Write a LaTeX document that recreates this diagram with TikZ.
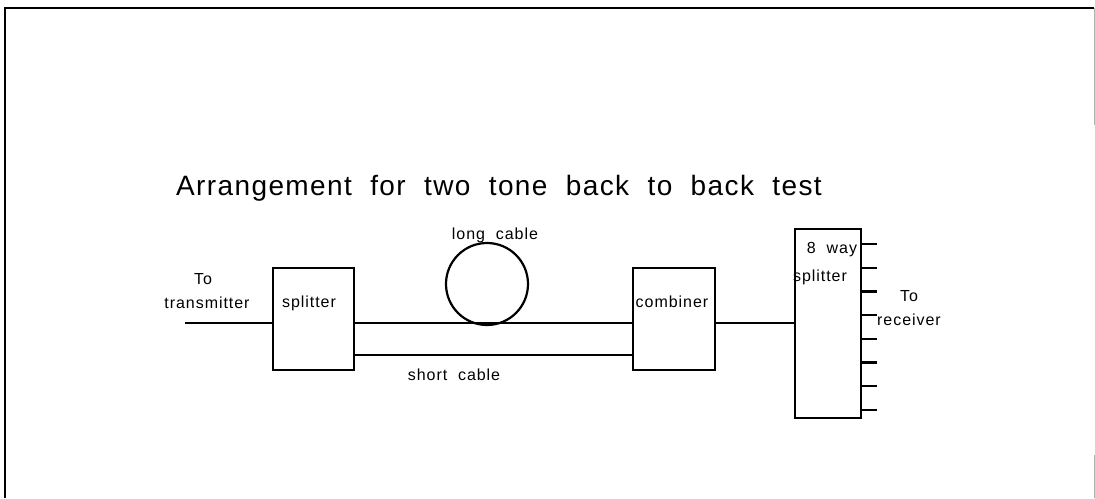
\documentclass[tikz,border=0pt]{standalone}
\usepackage{fontspec}
\setmainfont{Liberation Sans}
\begin{document}
\begin{tikzpicture}[x=1pt,y=-1pt,
  line width=2.2pt,
  blk/.style={draw,line width=2.2pt,inner sep=0pt},
  lbl/.style={inner sep=0pt,font=\fontsize{16}{18}\selectfont\addfontfeature{LetterSpace=6},anchor=base},
  wire/.style={line width=2.2pt}]
\useasboundingbox (0,0) rectangle (1095,498);
% frame
\draw[line width=2.4pt] (5,498) -- (5,8) -- (1094,8);
\draw[line width=1pt,gray!60] (1094,8) -- (1094,125);
\draw[line width=1pt,gray!60] (1094,455) -- (1094,498);
% title
\node[inner sep=0pt,anchor=base west,font=\fontsize{28}{30}\selectfont\addfontfeature{LetterSpace=5}] (title) at (175,195) {Arrangement\ \ for\ \ two\ \ tone\ \ back\ \ to\ \ back\ \ test};
% blocks
\node[blk,minimum width=81pt,minimum height=102pt] (spl) at (313.5,319) {};
\node[blk,minimum width=82pt,minimum height=102pt] (comb) at (674,319) {};
\node[blk,minimum width=66pt,minimum height=189pt] (sp8) at (828,323.5) {};
\node[draw,circle,line width=2.2pt,minimum size=82pt,inner sep=0pt] (coil) at (487,284) {};
% labels
\node[lbl] (lspl) at (309,307) {splitter};
\node[lbl] (lcomb) at (672,307) {combiner};
\node[lbl] (l8a) at (832,253) {8\ \ way};
\node[lbl] (l8b) at (820,281) {splitter};
\node[lbl] (lto1) at (203,284) {To};
\node[lbl] (ltx) at (207,308) {transmitter};
\node[lbl] (llong) at (495,239) {long\ \ cable};
\node[lbl] (lshort) at (454,380) {short\ \ cable};
\node[lbl] (lto2) at (909,301) {To};
\node[lbl] (lrx) at (909,325) {receiver};
% wires
\coordinate (tx) at (185,323);
\draw[wire] (tx) -- (spl.west |- tx);
\draw[wire] (spl.east |- tx) -- (comb.west |- tx);
\draw[wire] (spl.east |- 0,355) -- (comb.west |- 0,355);
\draw[wire] (comb.east |- tx) -- (sp8.west |- tx);
\foreach \i in {0,...,7} {
  \coordinate (s\i) at (877,{244+\i*23.7});
  \draw[wire] (sp8.east |- s\i) -- (s\i);
}
\end{tikzpicture}
\end{document}
